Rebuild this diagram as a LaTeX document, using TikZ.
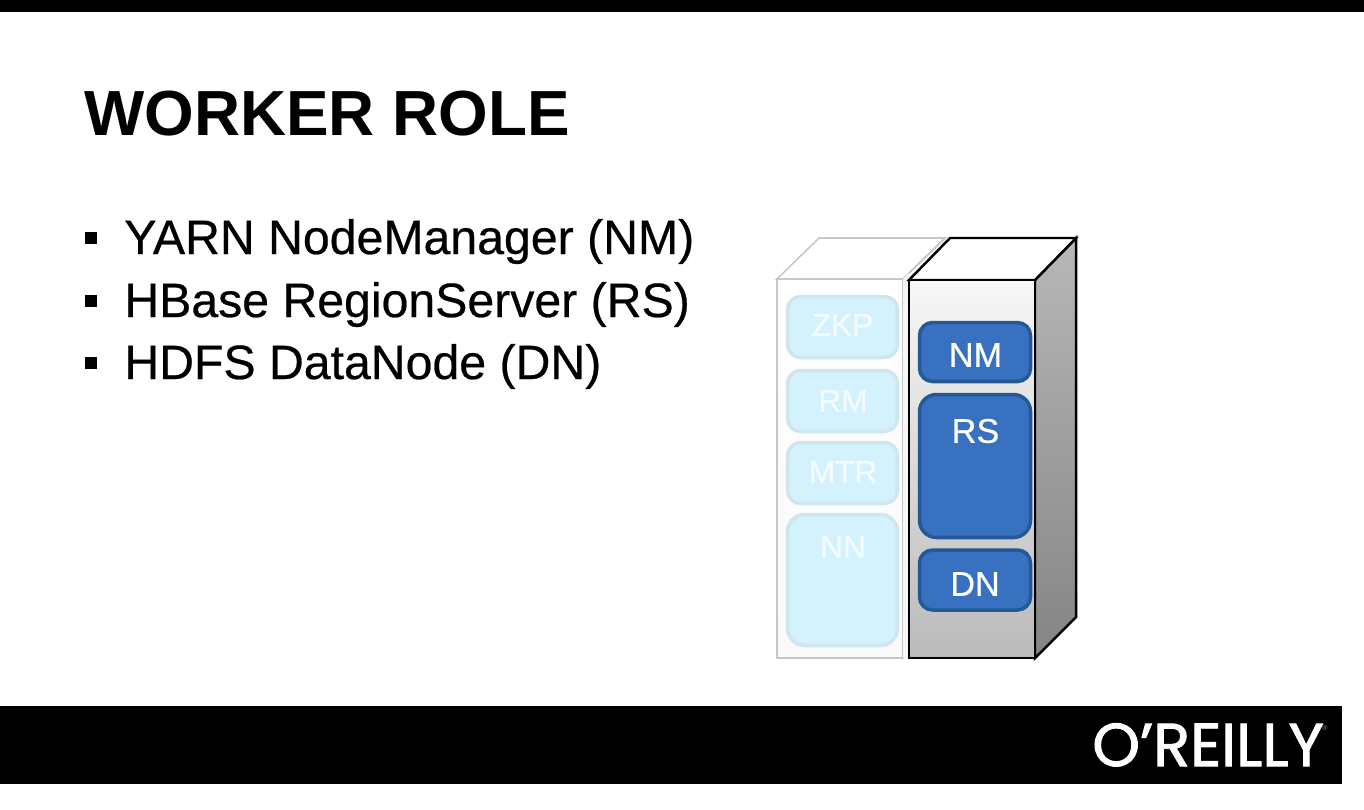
\documentclass[tikz,border=0pt]{standalone}
\usepackage{fontspec}
\setmainfont{Liberation Sans}
\newfontfamily\logofont[FakeBold=1.6]{Poppins}
\newfontfamily\labelfont[FakeBold=.5]{Liberation Sans}
\definecolor{paleblue}{RGB}{211, 242, 253}
\definecolor{paleedge}{RGB}{208, 230, 238}
\definecolor{paletext}{RGB}{244, 252, 255}
\definecolor{roleblue}{RGB}{55, 113, 191}
\definecolor{roleedge}{RGB}{36, 88, 150}
\tikzset{
  headline/.style={anchor=base west,inner sep=0pt,font=\fontsize{36.3}{36}\selectfont\bfseries},
  bulletline/.style={anchor=base west,inner sep=0pt,font=\labelfont\fontsize{27.45}{27}\selectfont},
  bulletmark/.style={fill=black,inner sep=0pt,minimum size=.24cm},
  palelabel/.style={text=paletext,inner sep=0pt,font=\labelfont\fontsize{18}{18}\selectfont},
  rolelabel/.style={text=white,inner sep=0pt,font=\labelfont\fontsize{19.5}{20}\selectfont},
  palebox/.style={draw=paleedge,fill=paleblue,line width=2pt,rounded corners=.26cm,minimum width=2.2cm},
  rolebox/.style={draw=roleedge,fill=roleblue,line width=2pt,rounded corners=.26cm,minimum width=2.22cm},
}
\begin{document}
\begin{tikzpicture}[x=.02cm,y=-.02cm]
\useasboundingbox (0,0) rectangle (1364,809);
\fill[black] (0,0) rectangle (1364,12);
\fill[black] (0,706) rectangle (1342,784);
\node[headline] (title) at (84,135) {WORKER ROLE};
\node[bulletmark] (mark1) at (91,238) {};
\node[bulletmark] (mark2) at (91,301) {};
\node[bulletmark] (mark3) at (91,363) {};
\node[bulletline] (line1) at (124,254) {YARN NodeManager (NM)};
\node[bulletline] (line2) at (124,317) {HBase RegionServer (RS)};
\node[bulletline] (line3) at (124,379) {HDFS DataNode (DN)};
\shade[top color=white,bottom color=black!2,draw=black!22,line width=.9pt] (777,279) rectangle (903,658);
\draw[black!22,line width=.9pt,fill=white] (777,279) -- (819,238) -- (945,238) -- (903,279) -- cycle;
\fill[black!3] (903,279) -- (909,273) -- (909,658) -- (903,658) -- cycle;
\draw[black!22,line width=.9pt] (945,238) -- (909,273);
\shade[top color=black!28,bottom color=black!48,draw=black,line width=1.4pt] (1035,280) -- (1076,238) -- (1076,617) -- (1035,658) -- cycle;
\draw[black,line width=1.4pt,fill=white] (909,280) -- (950,238) -- (1076,238) -- (1035,280) -- cycle;
\shade[top color=black!3,bottom color=black!27,draw=black,line width=1.4pt] (909,280) rectangle (1035,658);
\node[palebox,minimum height=1.22cm] (zkp) at (842.5,327) {};
\node[palebox,minimum height=1.22cm] (rm) at (842.5,401) {};
\node[palebox,minimum height=1.22cm] (mtr) at (842.5,473) {};
\node[palebox,minimum height=2.62cm,rounded corners=.34cm] (nn) at (842.5,580) {};
\node[palelabel] (zkplabel) at (842.5,325) {ZKP};
\node[palelabel] (rmlabel) at (843,401) {RM};
\node[palelabel] (mtrlabel) at (843,472) {MTR};
\node[palelabel] (nnlabel) at (843,547) {NN};
\node[rolebox,minimum height=1.18cm] (nm) at (975,352) {};
\node[rolebox,minimum height=2.86cm,rounded corners=.34cm] (rs) at (975,466) {};
\node[rolebox,minimum height=1.2cm] (dn) at (975,580) {};
\node[rolelabel] (nmlabel) at (975.5,355) {NM};
\node[rolelabel] (rslabel) at (975.5,431) {RS};
\node[rolelabel] (dnlabel) at (975,584) {DN};
\node[anchor=base west,inner sep=0pt,text=white,font=\logofont\fontsize{34.5}{35}\selectfont] (logo) at (1092,766) {O’REILLY};
\node[inner sep=0pt,text=black!45,font=\fontsize{4}{4}\selectfont] (regmark) at (1325,728) {®};
\end{tikzpicture}
\end{document}
